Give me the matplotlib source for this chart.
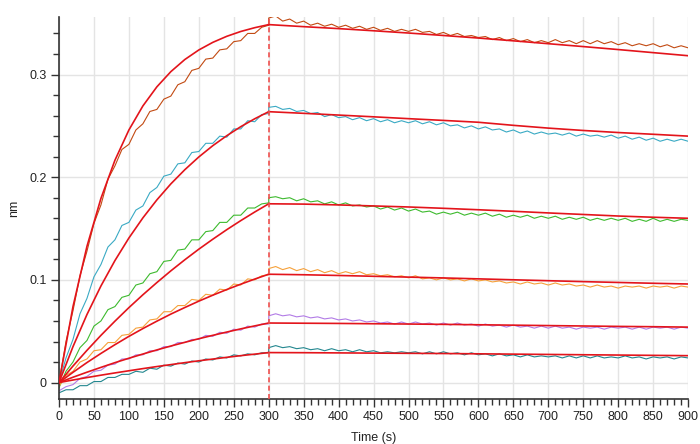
import numpy as np
import matplotlib
matplotlib.use("Agg")
from matplotlib import pyplot as plt
from matplotlib.ticker import MultipleLocator

# time bases (s)
t_assoc = np.arange(0, 301, 10)
t_dissoc = np.arange(300, 901, 10)
t_fit_assoc = np.arange(0, 301, 20)
t_fit_dissoc = np.arange(300, 901, 50)

# measured traces (nm), association then dissociation
data1_assoc = [0.000, 0.040, 0.070, 0.104, 0.128, 0.155, 0.173, 0.198, 0.211, 0.227, 0.232,
               0.246, 0.252, 0.264, 0.266, 0.276, 0.279, 0.290, 0.293, 0.304, 0.306, 0.315,
               0.316, 0.324, 0.325, 0.332, 0.333, 0.340, 0.340, 0.346, 0.348]
data1_dissoc = [0.355, 0.357, 0.352, 0.354, 0.350, 0.352, 0.348, 0.350, 0.347, 0.349, 0.346,
                0.348, 0.345, 0.347, 0.344, 0.346, 0.343, 0.345, 0.342, 0.344, 0.342, 0.344,
                0.341, 0.342, 0.339, 0.341, 0.338, 0.340, 0.337, 0.338, 0.336, 0.337, 0.334,
                0.336, 0.333, 0.335, 0.332, 0.334, 0.331, 0.333, 0.331, 0.334, 0.331, 0.333,
                0.330, 0.333, 0.330, 0.333, 0.330, 0.332, 0.329, 0.331, 0.328, 0.330, 0.328,
                0.330, 0.327, 0.329, 0.326, 0.328, 0.326]

data2_assoc = [0.000, 0.024, 0.042, 0.067, 0.082, 0.103, 0.115, 0.132, 0.139, 0.153, 0.156,
               0.168, 0.172, 0.185, 0.190, 0.201, 0.203, 0.213, 0.214, 0.224, 0.225, 0.233,
               0.233, 0.240, 0.239, 0.247, 0.247, 0.255, 0.254, 0.261, 0.262]
data2_dissoc = [0.268, 0.269, 0.266, 0.267, 0.264, 0.265, 0.262, 0.263, 0.259, 0.261, 0.258,
                0.259, 0.256, 0.258, 0.255, 0.257, 0.254, 0.256, 0.253, 0.255, 0.253, 0.255,
                0.252, 0.254, 0.251, 0.253, 0.250, 0.251, 0.248, 0.250, 0.247, 0.249, 0.246,
                0.247, 0.244, 0.246, 0.243, 0.245, 0.242, 0.244, 0.242, 0.243, 0.241, 0.243,
                0.240, 0.242, 0.240, 0.241, 0.239, 0.241, 0.238, 0.240, 0.237, 0.239, 0.236,
                0.238, 0.235, 0.237, 0.235, 0.237, 0.235]

data3_assoc = [-0.005, 0.011, 0.020, 0.034, 0.041, 0.055, 0.060, 0.071, 0.074, 0.083, 0.085,
               0.095, 0.097, 0.106, 0.108, 0.118, 0.119, 0.129, 0.130, 0.139, 0.139, 0.147,
               0.148, 0.156, 0.156, 0.163, 0.163, 0.170, 0.170, 0.174, 0.175]
data3_dissoc = [0.180, 0.181, 0.179, 0.180, 0.177, 0.179, 0.176, 0.177, 0.174, 0.176, 0.173,
                0.175, 0.172, 0.173, 0.171, 0.172, 0.169, 0.171, 0.168, 0.170, 0.167, 0.169,
                0.166, 0.167, 0.164, 0.166, 0.164, 0.166, 0.163, 0.165, 0.163, 0.165, 0.162,
                0.164, 0.161, 0.163, 0.161, 0.163, 0.160, 0.162, 0.160, 0.162, 0.159, 0.161,
                0.159, 0.161, 0.158, 0.160, 0.158, 0.160, 0.158, 0.160, 0.157, 0.159, 0.157,
                0.160, 0.157, 0.159, 0.157, 0.159, 0.158]

data4_assoc = [-0.004, 0.007, 0.011, 0.020, 0.023, 0.031, 0.032, 0.039, 0.039, 0.046, 0.047,
               0.053, 0.054, 0.061, 0.062, 0.069, 0.069, 0.075, 0.075, 0.081, 0.080, 0.086,
               0.085, 0.091, 0.090, 0.096, 0.095, 0.101, 0.100, 0.104, 0.105]
data4_dissoc = [0.111, 0.113, 0.110, 0.112, 0.109, 0.111, 0.108, 0.110, 0.107, 0.109, 0.106,
                0.108, 0.106, 0.108, 0.105, 0.106, 0.104, 0.105, 0.103, 0.104, 0.102, 0.104,
                0.101, 0.102, 0.100, 0.102, 0.100, 0.101, 0.099, 0.101, 0.099, 0.100, 0.098,
                0.099, 0.097, 0.098, 0.096, 0.098, 0.096, 0.097, 0.095, 0.097, 0.095, 0.096,
                0.094, 0.095, 0.093, 0.095, 0.093, 0.094, 0.092, 0.094, 0.093, 0.094, 0.092,
                0.094, 0.093, 0.094, 0.092, 0.094, 0.093]

data5_assoc = [-0.008, -0.004, -0.002, 0.004, 0.006, 0.011, 0.012, 0.017, 0.018, 0.023, 0.023,
               0.027, 0.027, 0.031, 0.031, 0.035, 0.035, 0.039, 0.039, 0.042, 0.042, 0.046,
               0.045, 0.049, 0.048, 0.052, 0.051, 0.055, 0.054, 0.057, 0.057]
data5_dissoc = [0.065, 0.067, 0.065, 0.066, 0.064, 0.065, 0.063, 0.064, 0.062, 0.063, 0.061,
                0.062, 0.060, 0.061, 0.059, 0.060, 0.058, 0.059, 0.057, 0.059, 0.057, 0.059,
                0.057, 0.058, 0.056, 0.058, 0.056, 0.058, 0.056, 0.057, 0.055, 0.057, 0.055,
                0.056, 0.054, 0.056, 0.054, 0.055, 0.053, 0.055, 0.053, 0.055, 0.053, 0.054,
                0.052, 0.054, 0.053, 0.054, 0.052, 0.054, 0.053, 0.054, 0.052, 0.054, 0.052,
                0.054, 0.053, 0.054, 0.052, 0.054, 0.053]

data6_assoc = [-0.010, -0.007, -0.007, -0.003, -0.003, 0.001, 0.001, 0.005, 0.005, 0.008, 0.008,
               0.011, 0.010, 0.014, 0.013, 0.017, 0.016, 0.019, 0.018, 0.021, 0.020, 0.023,
               0.022, 0.025, 0.024, 0.027, 0.026, 0.028, 0.027, 0.029, 0.029]
data6_dissoc = [0.034, 0.036, 0.034, 0.035, 0.033, 0.034, 0.032, 0.033, 0.031, 0.033, 0.031,
                0.032, 0.030, 0.032, 0.030, 0.031, 0.029, 0.030, 0.029, 0.030, 0.029, 0.030,
                0.028, 0.030, 0.028, 0.030, 0.028, 0.029, 0.027, 0.029, 0.027, 0.028, 0.026,
                0.028, 0.026, 0.027, 0.025, 0.027, 0.025, 0.026, 0.025, 0.026, 0.024, 0.026,
                0.024, 0.026, 0.024, 0.026, 0.024, 0.025, 0.024, 0.026, 0.024, 0.025, 0.023,
                0.025, 0.024, 0.025, 0.023, 0.025, 0.024]

# fitted curves (nm)
fit1_assoc = [0.0, 0.0740, 0.1327, 0.1794, 0.2165, 0.2460, 0.2694, 0.2880, 0.3028, 0.3146,
              0.3239, 0.3313, 0.3372, 0.3419, 0.3456, 0.3486]
fit1_dissoc = [0.3486, 0.3466, 0.3447, 0.3426, 0.3404, 0.3380, 0.3355, 0.3328, 0.3300,
               0.3272, 0.3243, 0.3213, 0.3183]
fit2_assoc = [0.0, 0.0350, 0.0663, 0.0941, 0.1188, 0.1408, 0.1604, 0.1779, 0.1935, 0.2073,
              0.2197, 0.2307, 0.2404, 0.2492, 0.2569, 0.2638]
fit2_dissoc = [0.2638, 0.2622, 0.2605, 0.2588, 0.2570, 0.2553, 0.2535, 0.2505, 0.2478,
               0.2455, 0.2435, 0.2418, 0.2400]
fit3_assoc = [0.0, 0.0161, 0.0314, 0.0460, 0.0598, 0.0730, 0.0855, 0.0974, 0.1088, 0.1196,
              0.1299, 0.1396, 0.1489, 0.1577, 0.1661, 0.1741]
fit3_dissoc = [0.1741, 0.1738, 0.1730, 0.1720, 0.1710, 0.1697, 0.1683, 0.1668, 0.1652,
               0.1637, 0.1622, 0.1610, 0.1600]
fit4_assoc = [0.0, 0.0100, 0.0195, 0.0284, 0.0369, 0.0450, 0.0526, 0.0598, 0.0667, 0.0731,
              0.0793, 0.0851, 0.0906, 0.0958, 0.1008, 0.1055]
fit4_dissoc = [0.1055, 0.1050, 0.1043, 0.1035, 0.1027, 0.1019, 0.1010, 0.1001, 0.0992,
               0.0983, 0.0975, 0.0967, 0.0960]
fit5_assoc = [0.0, 0.0052, 0.0101, 0.0148, 0.0194, 0.0237, 0.0278, 0.0318, 0.0356, 0.0392,
              0.0427, 0.0460, 0.0492, 0.0523, 0.0552, 0.0580]
fit5_dissoc = [0.0580, 0.0578, 0.0576, 0.0573, 0.0570, 0.0567, 0.0563, 0.0559, 0.0555,
               0.0551, 0.0547, 0.0544, 0.0540]
fit6_assoc = [0.0, 0.0025, 0.0049, 0.0072, 0.0094, 0.0115, 0.0136, 0.0156, 0.0175, 0.0194,
              0.0212, 0.0229, 0.0246, 0.0262, 0.0277, 0.0292]
fit6_dissoc = [0.0292, 0.0291, 0.0289, 0.0287, 0.0285, 0.0283, 0.0280, 0.0277, 0.0274,
               0.0271, 0.0268, 0.0265, 0.0262]

traces = [
    (data1_assoc, data1_dissoc, fit1_assoc, fit1_dissoc, "#C24A12"),
    (data2_assoc, data2_dissoc, fit2_assoc, fit2_dissoc, "#3AAAC4"),
    (data3_assoc, data3_dissoc, fit3_assoc, fit3_dissoc, "#3DBA2E"),
    (data4_assoc, data4_dissoc, fit4_assoc, fit4_dissoc, "#F6A13A"),
    (data5_assoc, data5_dissoc, fit5_assoc, fit5_dissoc, "#B27BE6"),
    (data6_assoc, data6_dissoc, fit6_assoc, fit6_dissoc, "#23878F"),
]

FIT_COLOR = "#E3141B"

plt.rcParams['font.family'] = ['Liberation Sans', 'DejaVu Sans']

fig = plt.figure(figsize=(7.0, 4.44), dpi=100)
ax = fig.add_axes([0.0843, 0.1018, 0.8987, 0.8599])

for d_a, d_d, f_a, f_d, col in traces:
    t_data = np.concatenate([t_assoc, t_dissoc])
    y_data = np.concatenate([d_a, d_d])
    ax.plot(t_data, y_data, color=col, lw=0.8, zorder=2)
for d_a, d_d, f_a, f_d, col in traces:
    ax.plot(t_fit_assoc, f_a, color=FIT_COLOR, lw=1.2, zorder=3)
    ax.plot(t_fit_dissoc, f_d, color=FIT_COLOR, lw=1.2, zorder=3)

# end of association phase
ax.axvline(300, color="#F0504E", lw=1.2, ls=(0, (3, 2)), zorder=4)

ax.set_xlim(0, 900)
ax.set_ylim(-0.0158, 0.356)
ax.xaxis.set_major_locator(MultipleLocator(50))
ax.xaxis.set_minor_locator(MultipleLocator(10))
ax.yaxis.set_minor_locator(MultipleLocator(0.02))
ax.set_yticks([0, 0.1, 0.2, 0.3])
ax.set_yticklabels(["0", "0.1", "0.2", "0.3"])

ax.grid(True, which='major', color="#E4E4E4", lw=1.0, zorder=0)
ax.set_axisbelow(True)

for side in ['top', 'right']:
    ax.spines[side].set_visible(False)
for side in ['left', 'bottom']:
    ax.spines[side].set_color("#333333")
    ax.spines[side].set_linewidth(1.2)

ax.tick_params(which='major', direction='out', length=6, width=1, color="#333333",
               labelsize=9, labelcolor="#222222", pad=3)
ax.tick_params(which='minor', direction='out', length=4, width=1, color="#333333")

ax.set_xlabel("Time (s)", fontsize=9, color="#222222", labelpad=6)
ax.set_ylabel("nm", fontsize=9, color="#222222")
ax.yaxis.set_label_coords(-0.062, 0.5)

fig.savefig("out.png", dpi=100)
